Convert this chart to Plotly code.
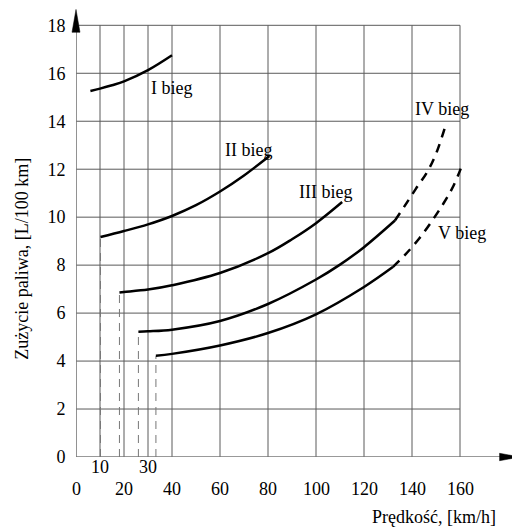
import plotly.graph_objects as go

# ---- data ----
gear_names = ["I bieg", "II bieg", "III bieg", "IV bieg", "V bieg"]

g1_x = [6, 10, 15, 20, 30, 40]
g1_y = [15.26, 15.36, 15.5, 15.66, 16.13, 16.75]

g2_x = [10.2, 20, 30, 40, 50, 60, 70, 80.6]
g2_y = [9.17, 9.42, 9.7, 10.05, 10.5, 11.07, 11.74, 12.55]

g3_x = [18.1, 20, 30, 40, 60, 80, 90, 100, 110.9]
g3_y = [6.86, 6.88, 6.98, 7.16, 7.67, 8.5, 9.08, 9.75, 10.63]

g4_x = [26.0, 30, 40, 60, 80, 100, 110, 120, 132.9]
g4_y = [5.22, 5.24, 5.31, 5.67, 6.38, 7.4, 8.02, 8.75, 9.86]
g4d_x = [132.9, 136.7, 141.6, 146.6, 150.3, 154.0]
g4d_y = [9.86, 10.43, 11.18, 11.93, 12.72, 13.83]

g5_x = [33.3, 40, 60, 80, 100, 120, 132.0]
g5_y = [4.22, 4.3, 4.65, 5.17, 5.95, 7.09, 7.92]
g5d_x = [132.0, 137.3, 143.0, 148.3, 153.1, 157.4, 161.1]
g5d_y = [7.92, 8.45, 9.11, 9.84, 10.57, 11.33, 12.23]

x_grid = [10, 20, 30, 40, 60, 80, 100, 120, 140, 160]
y_ticks = [0, 2, 4, 6, 8, 10, 12, 14, 16, 18]
x_ticks_row1 = [10, 30]
x_ticks_row2 = [0, 20, 40, 60, 80, 100, 120, 140, 160]

label_pos = {  # gear label positions (data coords)
    "I bieg": (39.9, 15.38),
    "II bieg": (71.8, 12.79),
    "III bieg": (104.0, 11.05),
    "IV bieg": (152.7, 14.5),
    "V bieg": (160.7, 9.34),
}

FONT = "Liberation Serif"
FS = 18
GRID = "#5a5a5a"

fig = go.Figure()

# grid
for gx in x_grid:
    fig.add_trace(go.Scatter(x=[gx, gx], y=[0, 18], mode="lines",
                             line=dict(color=GRID, width=1), hoverinfo="skip", showlegend=False))
for gy in y_ticks[1:]:
    fig.add_trace(go.Scatter(x=[0, 160], y=[gy, gy], mode="lines",
                             line=dict(color=GRID, width=1), hoverinfo="skip", showlegend=False))

# drop lines from curve starts
for xs, ys in [(g2_x, g2_y), (g3_x, g3_y), (g4_x, g4_y), (g5_x, g5_y)]:
    fig.add_trace(go.Scatter(x=[xs[0], xs[0]], y=[0, ys[0]], mode="lines",
                             line=dict(color="#777", width=1, dash="8px,6px"),
                             hoverinfo="skip", showlegend=False))

# axes lines
fig.add_trace(go.Scatter(x=[0, 177], y=[0, 0], mode="lines",
                         line=dict(color="#777", width=1.6), hoverinfo="skip", showlegend=False))
fig.add_trace(go.Scatter(x=[0, 0], y=[0, 17.8], mode="lines",
                         line=dict(color="#777", width=1.6), hoverinfo="skip", showlegend=False))

# curves
for xs, ys in [(g1_x, g1_y), (g2_x, g2_y), (g3_x, g3_y), (g4_x, g4_y), (g5_x, g5_y)]:
    fig.add_trace(go.Scatter(x=xs, y=ys, mode="lines",
                             line=dict(color="black", width=2.5, shape="spline", smoothing=1.0),
                             hoverinfo="skip", showlegend=False))
for xs, ys in [(g4d_x, g4d_y), (g5d_x, g5d_y)]:
    fig.add_trace(go.Scatter(x=xs, y=ys, mode="lines",
                             line=dict(color="black", width=2.5, shape="spline", dash="9px,7px"),
                             hoverinfo="skip", showlegend=False))

# arrowheads (paper coords, not clipped)
fig.add_shape(type="path", path="M 0.954 -0.0083 L 1.0 0 L 0.954 0.0083 Z",
              xref="paper", yref="paper", fillcolor="black", line=dict(color="black", width=0.5))
fig.add_shape(type="path", path="M -0.009 0.948 L 0 0.999 L 0.009 0.948 Z",
              xref="paper", yref="paper", fillcolor="black", line=dict(color="black", width=0.5))

ann = []
for name in gear_names:
    x, y = label_pos[name]
    ann.append(dict(x=x, y=y, xref="x", yref="y", text=name, showarrow=False,
                    font=dict(family=FONT, size=FS, color="black")))
for v in x_ticks_row1:
    ann.append(dict(x=v, y=-0.0223, xref="x", yref="paper", text=str(v), showarrow=False,
                    yanchor="middle", font=dict(family=FONT, size=FS, color="black")))
for v in x_ticks_row2:
    ann.append(dict(x=v, y=-0.0714, xref="x", yref="paper", text=str(v), showarrow=False,
                    yanchor="middle", font=dict(family=FONT, size=FS, color="black")))
ann.append(dict(x=0.9505, y=-0.134, xref="paper", yref="paper", text="Prędkość, [km/h]",
                showarrow=False, xanchor="right", yanchor="middle",
                font=dict(family=FONT, size=FS, color="black")))
ann.append(dict(x=-0.1223, y=0.442, xref="paper", yref="paper", text="Zużycie paliwa, [L/100 km]",
                showarrow=False, textangle=-90, xanchor="center", yanchor="middle",
                font=dict(family=FONT, size=FS, color="black")))

# page body has an 8px margin, so the figure is 8px smaller and margins shifted
fig.update_layout(
    width=512, height=522,
    margin=dict(l=68, r=0, t=1, b=73, autoexpand=False),
    paper_bgcolor="white", plot_bgcolor="white",
    showlegend=False,
    annotations=ann,
    xaxis=dict(range=[0, 185], visible=False, fixedrange=True),
    yaxis=dict(range=[0, 18.68], showgrid=False, zeroline=False, showline=False,
               tickvals=y_ticks, ticks="outside", ticklen=6, tickcolor="rgba(0,0,0,0)",
               tickfont=dict(family=FONT, size=FS, color="black")),
)

fig.write_html("out.html")
